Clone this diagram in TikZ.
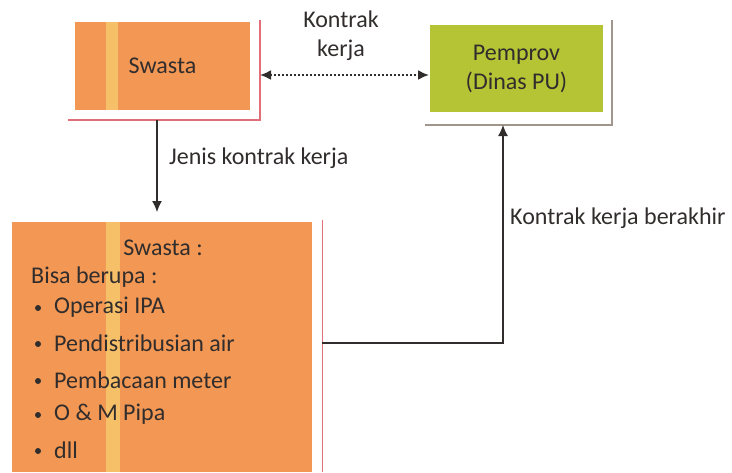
\documentclass[tikz,border=0pt]{standalone}
\usepackage{fontspec}
\setmainfont{Carlito}
\usetikzlibrary{arrows.meta,calc}
\definecolor{orangebox}{RGB}{242,152,84}
\definecolor{greenbox}{RGB}{180,196,52}
\definecolor{txt}{RGB}{50,45,45}
\definecolor{redshadow}{RGB}{226,110,120}
\definecolor{grayshadow}{RGB}{160,150,140}
\definecolor{stripe}{RGB}{250,220,120}
\tikzset{
  box/.style={draw=none, inner sep=0pt, text=txt, font=\fontsize{24}{29}\selectfont, align=center},
  lbl/.style={text=txt, font=\fontsize{24}{29}\selectfont, align=center, inner sep=1pt},
  conn/.style={line width=1.2pt, draw=txt, -{Latex[length=11pt,width=10pt]}},
}
\begin{document}
\begin{tikzpicture}[x=1pt,y=-1pt]
\useasboundingbox (0,0) rectangle (732,472);
% top Swasta box
\fill[orangebox] (75,22) rectangle (250,110);
\fill[stripe,opacity=0.6] (106,22) rectangle (118,110);
\node[box, minimum width=175pt, minimum height=88pt] (sw) at (162.5,66) {Swasta};
\draw[redshadow, line width=1.5pt] (68,120) -- (260,120) -- (260,20);
% Pemprov box
\fill[greenbox] (430,25) rectangle (603,112);
\node[box, minimum width=173pt, minimum height=87pt] (pp) at (516.5,68.5) {Pemprov\\(Dinas PU)};
\draw[grayshadow, line width=1.5pt] (425,125) -- (612,125) -- (612,20);
% bottom box
\fill[orangebox] (12,222) rectangle (312,472);
\fill[stripe,opacity=0.6] (106,222) rectangle (120,472);
\node[box, minimum width=300pt, minimum height=250pt] (bx) at (162,347) {};
\draw[redshadow, line width=1pt] (322,220) -- (322,472);
\node[lbl, anchor=center] (t0) at (163,248) {Swasta :};
\node[lbl, anchor=west] (t1) at (30,277) {Bisa berupa :};
\foreach \yy/\tt [count=\i] in {307/Operasi IPA,343/Pendistribusian air,380/Pembacaan meter,414/O \& M Pipa,450/dll}{
  \fill[txt] (38,\yy+1) circle (3pt);
  \node[lbl, anchor=west] (it\i) at (53,\yy) {\tt};
}
% connectors
\coordinate (swl) at (260,75);
\coordinate (ppl) at (429,75);
\draw[line width=2pt, dotted, draw=txt, {Latex[length=11pt,width=10pt]}-{Latex[length=11pt,width=10pt]}] (swl) -- (ppl);
\node[lbl] (kk) at (341,36) {Kontrak\\kerja};
\coordinate (swb) at (157,120);
\coordinate (bxt) at (157,212);
\draw[conn] (swb) -- (bxt);
\node[lbl, anchor=west] (jk) at (168,158) {Jenis kontrak kerja};
\coordinate (bxr) at (322,343);
\coordinate (ppb) at (503,125);
\draw[conn] (bxr) -| (ppb);
\node[lbl, anchor=west] (kb) at (509,218) {Kontrak kerja berakhir};
\end{tikzpicture}
\end{document}
